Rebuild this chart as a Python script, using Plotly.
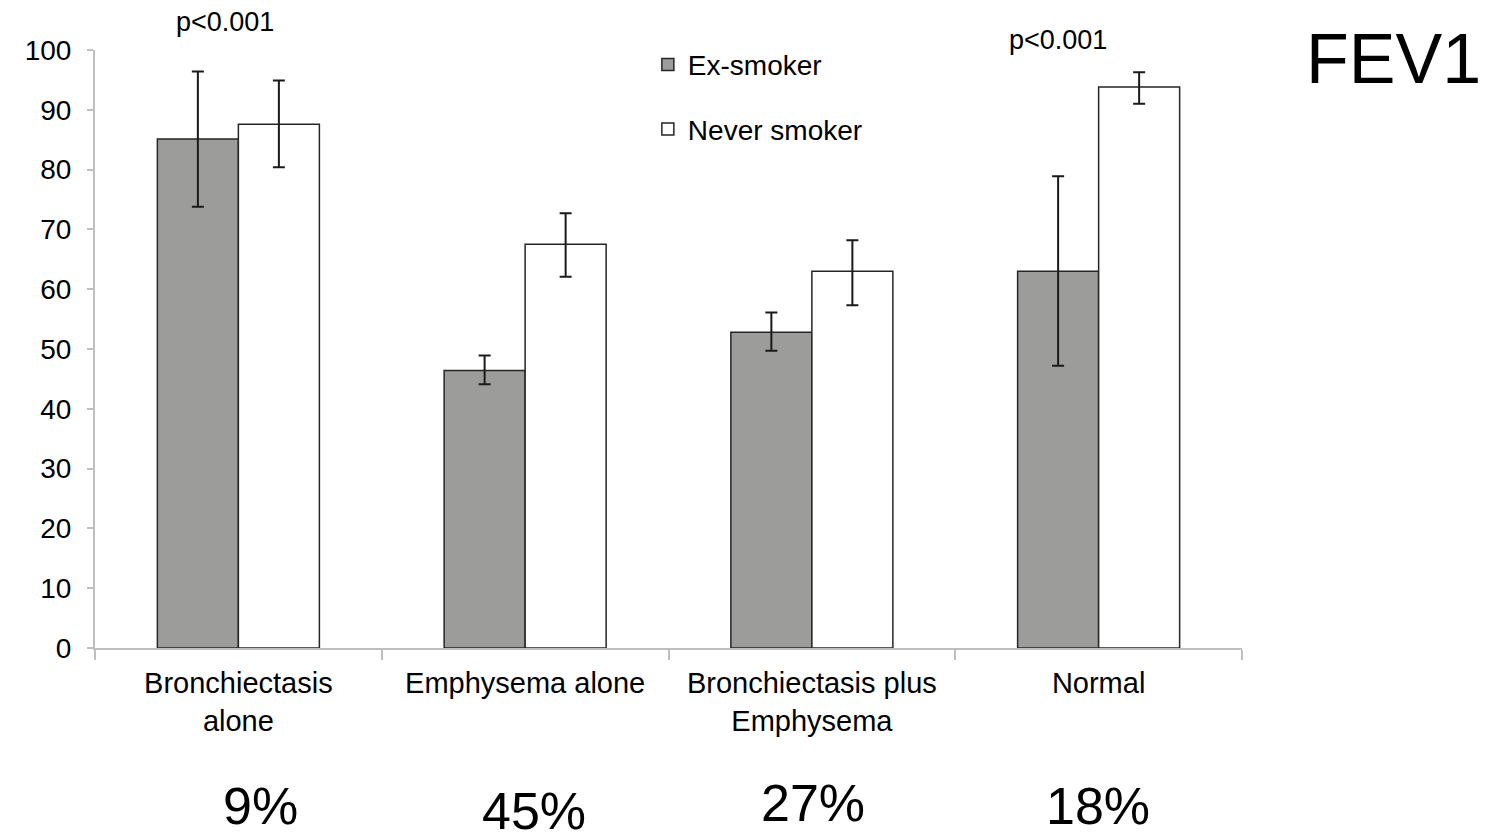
import plotly.graph_objects as go

categories = ["Bronchiectasis<br>alone", "Emphysema alone", "Bronchiectasis plus<br>Emphysema", "Normal"]
ex_smoker = [85.1, 46.4, 52.8, 63.0]
ex_hi = [96.4, 48.9, 56.1, 78.9]
ex_lo = [73.8, 44.1, 49.7, 47.2]
never_smoker = [87.6, 67.5, 63.0, 93.8]
never_hi = [94.9, 72.7, 68.2, 96.3]
never_lo = [80.4, 62.1, 57.3, 91.0]
percent_labels = ["9%", "45%", "27%", "18%"]
y_ticks = list(range(0, 101, 10))

FONT = "Liberation Sans, Arial, sans-serif"

fig = go.Figure()
fig.add_trace(go.Bar(
    name="Ex-smoker", x=categories, y=ex_smoker, legendgroup="a",
    marker=dict(color="#9c9d9b", line=dict(color="#262626", width=1.5)),
    error_y=dict(type="data", symmetric=False,
                 array=[h - v for h, v in zip(ex_hi, ex_smoker)],
                 arrayminus=[v - l for l, v in zip(ex_lo, ex_smoker)],
                 color="#1a1a1a", thickness=2, width=6),
))
fig.add_trace(go.Bar(
    name="Never smoker", x=categories, y=never_smoker, legendgroup="b",
    marker=dict(color="#ffffff", line=dict(color="#262626", width=1.5)),
    error_y=dict(type="data", symmetric=False,
                 array=[h - v for h, v in zip(never_hi, never_smoker)],
                 arrayminus=[v - l for l, v in zip(never_lo, never_smoker)],
                 color="#1a1a1a", thickness=2, width=6),
))

annotations = []
pct_offsets = [0.077, 0.03, 0.005, -0.003]
pct_y = [-0.264, -0.272, -0.26, -0.264]
for i, (lab, dx, yy) in enumerate(zip(percent_labels, pct_offsets, pct_y)):
    annotations.append(dict(text=lab, x=i + dx, y=yy, xref="x", yref="paper",
                            xanchor="center", yanchor="middle",
                            showarrow=False, font=dict(family=FONT, size=52, color="#000")))
annotations.append(dict(text="p&lt;0.001", x=-0.045, y=1.047, xref="x", yref="paper",
                        xanchor="center", yanchor="middle",
                        showarrow=False, font=dict(family=FONT, size=27, color="#000")))
annotations.append(dict(text="p&lt;0.001", x=2.86, y=1.017, xref="x", yref="paper",
                        xanchor="center", yanchor="middle",
                        showarrow=False, font=dict(family=FONT, size=27, color="#000")))
annotations.append(dict(text="FEV1", x=1.1325, y=0.985, xref="paper", yref="paper",
                        xanchor="center", yanchor="middle",
                        showarrow=False, font=dict(family=FONT, size=70, color="#000")))

fig.update_layout(
    width=1488, height=834,
    margin=dict(l=87, r=254, t=42, b=194),
    paper_bgcolor="white", plot_bgcolor="white",
    barmode="group", bargap=0.435, bargroupgap=0,
    font=dict(family=FONT, size=28, color="#000"),
    legend=dict(x=0.482, y=1.017, xanchor="left", yanchor="top",
                traceorder="grouped", tracegroupgap=25,
                font=dict(family=FONT, size=28, color="#000"),
                bgcolor="rgba(0,0,0,0)"),
    xaxis=dict(showline=True, linecolor="#bfbfbf", linewidth=2,
               ticks="outside", tickson="boundaries", ticklen=10, tickcolor="#bfbfbf",
               tickwidth=2, showgrid=False, ticklabelstandoff=8,
               tickfont=dict(family=FONT, size=29, color="#000")),
    yaxis=dict(range=[0, 100], tickvals=y_ticks, showline=True, linecolor="#bfbfbf",
               linewidth=2, ticks="outside", ticklen=6, tickcolor="#bfbfbf", tickwidth=2,
               showgrid=False, zeroline=False, ticklabelstandoff=10,
               tickfont=dict(family=FONT, size=28, color="#000")),
    annotations=annotations,
)

fig.write_html("out.html")
